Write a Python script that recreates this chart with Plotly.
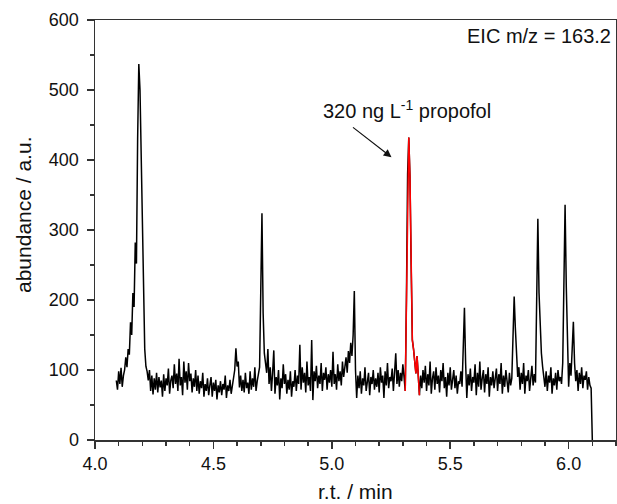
import plotly.graph_objects as go

# ---- data ----
SCAN_START = 4.090      # min, first scan
SCAN_INTERVAL = 0.005   # min between scans

abundance = [
    # 4.090 - 4.185
    85, 72, 98, 80, 103, 76, 92, 100, 118, 104, 130, 122, 168, 150, 210, 190, 282, 252, 430, 537,
    # 4.190 - 4.285
    500, 400, 290, 200, 130, 105, 98, 85, 100, 70, 92, 65, 88, 72, 96, 68, 90, 75, 85, 62,
    # 4.290 - 4.385
    94, 70, 88, 78, 102, 66, 85, 92, 74, 108, 80, 95, 70, 116, 78, 90, 64, 112, 82, 98,
    # 4.390 - 4.485
    72, 110, 84, 95, 68, 88, 76, 100, 70, 92, 66, 84, 74, 96, 62, 80, 70, 88, 64, 78,
    # 4.490 - 4.585
    90, 62, 82, 70, 86, 58, 78, 68, 84, 64, 80, 72, 92, 60, 78, 70, 86, 66, 76, 84,
    # 4.590 - 4.685
    100, 131, 105, 112, 75, 92, 70, 86, 68, 96, 74, 82, 66, 98, 72, 88, 76, 104, 70, 84,
    # 4.690 - 4.785
    92, 104, 214, 324, 181, 124, 110, 96, 130, 80, 104, 70, 96, 128, 66, 90, 78, 100, 58, 88,
    # 4.790 - 4.885
    74, 108, 80, 94, 66, 86, 72, 98, 62, 84, 76, 100, 70, 92, 80, 136, 72, 104, 82, 96,
    # 4.890 - 4.985
    68, 112, 78, 90, 70, 143, 57, 98, 84, 106, 74, 92, 80, 110, 70, 96, 86, 104, 72, 94,
    # 4.990 - 5.085
    82, 100, 76, 126, 80, 94, 72, 108, 84, 98, 78, 112, 90, 104, 118, 96, 127, 110, 139, 120,
    # 5.090 - 5.185
    150, 213, 100, 60, 92, 74, 98, 66, 88, 78, 104, 70, 86, 96, 64, 90, 80, 100, 72, 88,
    # 5.190 - 5.285
    76, 96, 68, 104, 82, 92, 60, 98, 78, 110, 74, 90, 84, 102, 70, 94, 124, 80, 100, 76,
    # 5.290 - 5.385
    96, 84, 108, 90, 70, 200, 380, 432, 376, 250, 143, 130, 115, 95, 120, 80, 64, 92, 74, 100,
    # 5.390 - 5.485
    82, 106, 70, 94, 78, 112, 66, 88, 98, 72, 104, 80, 92, 68, 100, 84, 110, 74, 90, 62,
    # 5.490 - 5.585
    96, 78, 104, 72, 88, 100, 74, 92, 66, 84, 80, 98, 76, 120, 189, 110, 60, 94, 78, 102,
    # 5.590 - 5.685
    70, 90, 82, 108, 64, 96, 76, 112, 72, 88, 100, 68, 94, 80, 104, 62, 90, 78, 98, 74,
    # 5.690 - 5.785
    86, 102, 70, 94, 80, 110, 66, 92, 76, 100, 84, 68, 96, 78, 88, 170, 205, 160, 110, 90,
    # 5.790 - 5.885
    104, 72, 96, 80, 110, 66, 92, 84, 100, 70, 88, 106, 78, 94, 82, 180, 316, 210, 150, 124,
    # 5.890 - 5.985
    105, 90, 76, 98, 70, 92, 82, 104, 66, 88, 78, 96, 72, 100, 84, 90, 80, 110, 200, 336,
    # 5.990 - 6.085
    220, 130, 76, 110, 92, 130, 169, 110, 84, 100, 70, 96, 80, 104, 74, 92, 86, 98, 72, 90,
    # 6.090 - 6.100
    78, 74, 0,
]

PROPOFOL_WINDOW = (5.310, 5.370)   # min, peak highlighted in red
PROPOFOL_LABEL = "320 ng L<sup>-1</sup> propofol"
PROPOFOL_ARROW_TIP = (5.252, 404)
EIC_LABEL = "EIC m/z = 163.2"
X_TITLE = "r.t. / min"
Y_TITLE = "abundance / a.u."

x_ticks = [4.0, 4.5, 5.0, 5.5, 6.0]
y_ticks = [0, 100, 200, 300, 400, 500, 600]

times = [round(SCAN_START + i * SCAN_INTERVAL, 3) for i in range(len(abundance))]
red_t = [t for t in times if PROPOFOL_WINDOW[0] <= t <= PROPOFOL_WINDOW[1]]
red_y = [a for t, a in zip(times, abundance) if PROPOFOL_WINDOW[0] <= t <= PROPOFOL_WINDOW[1]]

FONT = "Liberation Sans, Arial, sans-serif"
TXT = "#111111"
L, R, T, B = 95, 1, 20, 64
W, H = 617, 504
PW, PH = W - L - R, H - T - B


def px_x(px):
    return (px - L) / PW


def px_y(py):
    return (H - B - py) / PH


fig = go.Figure()
fig.add_trace(go.Scatter(x=times, y=abundance, mode="lines",
                         line=dict(color="black", width=1.5), showlegend=False,
                         hoverinfo="skip"))
fig.add_trace(go.Scatter(x=red_t, y=red_y, mode="lines",
                         line=dict(color="#ff0000", width=1.5), showlegend=False,
                         hoverinfo="skip"))

axis_common = dict(showgrid=False, zeroline=False, showline=True, linecolor="#333333",
                   linewidth=1.5, mirror=True, ticks="outside", ticklen=7, tickwidth=1.5,
                   tickcolor="#333333", automargin=False,
                   tickfont=dict(family=FONT, size=18, color=TXT))

fig.update_xaxes(range=[4.0, 6.2], tickvals=x_ticks, ticktext=[f"{v:.1f}" for v in x_ticks],
                 minor=dict(dtick=0.1, ticks="outside", ticklen=4, tickwidth=1.5,
                            tickcolor="#333333"),
                 **axis_common)
fig.update_yaxes(range=[0, 600], tickvals=y_ticks,
                 minor=dict(dtick=50, ticks="outside", ticklen=4, tickwidth=1.5,
                            tickcolor="#333333"),
                 ticklabelstandoff=4,
                 **axis_common)

fig.add_annotation(text=Y_TITLE, xref="paper", yref="paper",
                   x=px_x(23), y=px_y(215), textangle=-90,
                   showarrow=False, xanchor="center", yanchor="middle",
                   font=dict(family=FONT, size=21, color=TXT))
fig.add_annotation(text=X_TITLE, xref="paper", yref="paper",
                   x=px_x(355), y=px_y(491),
                   showarrow=False, xanchor="center", yanchor="middle",
                   font=dict(family=FONT, size=21, color=TXT))
fig.add_annotation(text=EIC_LABEL, xref="paper", yref="paper", x=px_x(613), y=px_y(36),
                   xanchor="right", yanchor="middle", showarrow=False,
                   font=dict(family=FONT, size=20, color=TXT))
fig.add_annotation(text=PROPOFOL_LABEL, xref="paper", yref="paper",
                   x=px_x(406.5), y=px_y(109),
                   xanchor="center", yanchor="middle", showarrow=False,
                   font=dict(family=FONT, size=20, color=TXT))
fig.add_annotation(text="", x=PROPOFOL_ARROW_TIP[0], y=PROPOFOL_ARROW_TIP[1],
                   ax=-40, ay=-31, showarrow=True, arrowhead=2, arrowsize=1.3,
                   arrowwidth=1.2, arrowcolor=TXT, standoff=0)

fig.update_layout(width=W, height=H, margin=dict(l=L, r=R, t=T, b=B),
                  plot_bgcolor="white", paper_bgcolor="white",
                  font=dict(family=FONT, color=TXT))

fig.write_html("out.html",
               config={"displayModeBar": False, "staticPlot": True},
               post_script="document.body.style.margin='0';"
                           "document.body.style.padding='0';"
                           "document.documentElement.style.overflow='hidden';")
